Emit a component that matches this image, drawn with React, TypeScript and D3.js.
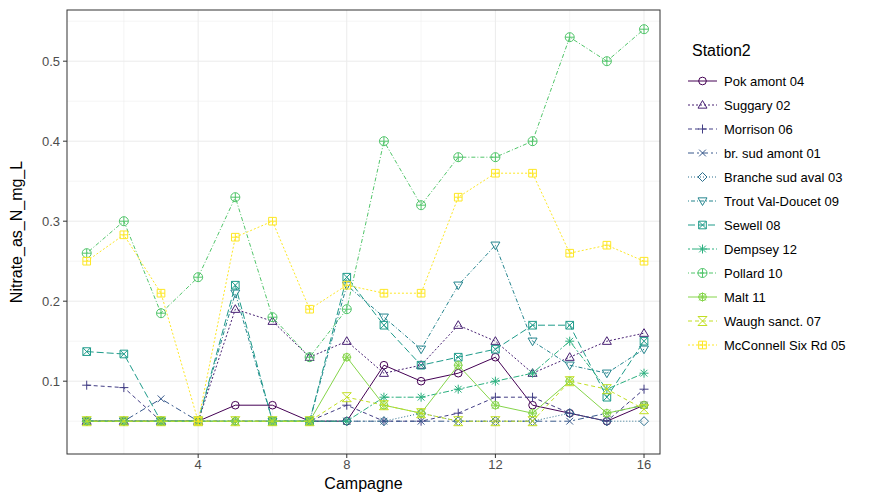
import React from 'react';
import * as d3 from 'd3';

const campagnes = d3.range(1, 17);
const stations = ['Pok amont 04', 'Suggary 02', 'Morrison 06', 'br. sud amont 01', 'Branche sud aval 03', 'Trout Val-Doucet 09', 'Sewell 08', 'Dempsey 12', 'Pollard 10', 'Malt 11', 'Waugh sanct. 07', 'McConnell Six Rd 05'];
const colors = ['#440154', '#482173', '#433E85', '#38598C', '#2D708E', '#25858E', '#1E9B8A', '#2BB07F', '#51C56A', '#85D54A', '#C2DF23', '#FDE725'];
const dashes = ['none', '2,2', '4,3', '6,3,2,3', '1,2', '1,2,4,2', '7,3', '2,2,6,2', '1,2,4,2', 'none', '4,3', '2,2'];
const pokAmont = [.05, .05, .05, .05, .07, .07, .05, .05, .12, .10, .11, .13, .07, .06, .05, .07];
const suggary = [.05, .05, .05, .05, .19, .175, .13, .15, .11, .12, .17, .15, .11, .13, .15, .16];
const morrison = [.095, .092, .05, .05, .05, .05, .05, .07, .05, .05, .06, .08, .08, .06, .05, .09];
const brSudAmont = [.05, .05, .078, .05, .05, .05, .05, .05, .05, .05, .05, .05, .05, .05, .06, .07];
const brancheSudAval = [.05, .05, .05, .05, .05, .05, .05, .05, .05, .06, .05, .05, .05, .06, .05, .05];
const troutVal = [.05, .05, .05, .05, .21, .05, .05, .22, .18, .14, .22, .27, .15, .12, .11, .14];
const sewell = [.137, .134, .05, .05, .22, .05, .05, .23, .17, .12, .13, .14, .17, .17, .08, .15];
const dempsey = [.05, .05, .05, .05, .05, .05, .05, .05, .08, .08, .09, .10, .11, .15, .09, .11];
const pollard = [.26, .30, .185, .23, .33, .18, .13, .19, .40, .32, .38, .38, .40, .53, .50, .54];
const malt = [.05, .05, .05, .05, .05, .05, .05, .13, .07, .06, .12, .07, .06, .10, .06, .07];
const waugh = [.05, .05, .05, .05, .05, .05, .05, .08, .07, .06, .05, .05, .05, .10, .09, .065];
const mcConnell = [.25, .283, .21, .05, .28, .30, .19, .22, .21, .21, .33, .36, .36, .26, .27, .25];
const series = [pokAmont, suggary, morrison, brSudAmont, brancheSudAval, troutVal, sewell, dempsey, pollard, malt, waugh, mcConnell];
const xTicks = [4, 8, 12, 16];
const yTicks = [0.1, 0.2, 0.3, 0.4, 0.5];

const W = 892, H = 496;
const panel = { left: 67, top: 10, right: 660, bottom: 454 };
const x = d3.scaleLinear().domain([0.47, 16.43]).range([panel.left, panel.right]);
const y = d3.scaleLinear().domain([0.009, 0.564]).range([panel.bottom, panel.top]);

function Shape({ i, cx, cy, color }: { i: number; cx: number; cy: number; color: string }) {
  const s = 4.5;
  const p = { fill: 'none', stroke: color, strokeWidth: 1 };
  const plus = `M${cx - s},${cy}H${cx + s}M${cx},${cy - s}V${cy + s}`;
  const cross = `M${cx - s * 0.75},${cy - s * 0.75}L${cx + s * 0.75},${cy + s * 0.75}M${cx - s * 0.75},${cy + s * 0.75}L${cx + s * 0.75},${cy - s * 0.75}`;
  const sq = `M${cx - s * 0.85},${cy - s * 0.85}h${s * 1.7}v${s * 1.7}h${-s * 1.7}Z`;
  switch (i) {
    case 0: return <circle cx={cx} cy={cy} r={s * 0.85} {...p} />;
    case 1: return <path d={`M${cx},${cy - s}L${cx + s},${cy + s * 0.7}L${cx - s},${cy + s * 0.7}Z`} {...p} />;
    case 2: return <path d={plus} {...p} />;
    case 3: return <path d={cross} {...p} />;
    case 4: return <path d={`M${cx},${cy - s}L${cx + s},${cy}L${cx},${cy + s}L${cx - s},${cy}Z`} {...p} />;
    case 5: return <path d={`M${cx},${cy + s}L${cx + s},${cy - s * 0.7}L${cx - s},${cy - s * 0.7}Z`} {...p} />;
    case 6: return <path d={sq + `M${cx - s * 0.85},${cy - s * 0.85}L${cx + s * 0.85},${cy + s * 0.85}M${cx - s * 0.85},${cy + s * 0.85}L${cx + s * 0.85},${cy - s * 0.85}`} {...p} />;
    case 7: return <path d={plus + cross} {...p} />;
    case 8: return <g><circle cx={cx} cy={cy} r={s} {...p} /><path d={plus} {...p} /></g>;
    case 9: return <g><circle cx={cx} cy={cy} r={s * 0.85} {...p} /><path d={plus + cross} {...p} /></g>;
    case 10: return <path d={`M${cx - s},${cy - s}H${cx + s}L${cx - s},${cy + s}H${cx + s}Z`} {...p} />;
    default: return <path d={sq + `M${cx - s * 0.85},${cy}H${cx + s * 0.85}M${cx},${cy - s * 0.85}V${cy + s * 0.85}`} {...p} />;
  }
}

export default function App() {
  const font = '"Liberation Sans", Arial, sans-serif';
  const line = d3.line<number>().x((_, j) => x(campagnes[j])).y(v => y(v));
  const xMinor = [2, 6, 10, 14];
  const yMinor = [0.05, 0.15, 0.25, 0.35, 0.45, 0.55];
  return (
    <svg width={W} height={H} style={{ position: 'absolute', left: 0, top: 0, fontFamily: font }}>
      <rect width={W} height={H} fill="white" />
      {xMinor.map(t => <line key={'xm' + t} x1={x(t)} x2={x(t)} y1={panel.top} y2={panel.bottom} stroke="#EBEBEB" strokeWidth={0.5} />)}
      {yMinor.map(t => <line key={'ym' + t} x1={panel.left} x2={panel.right} y1={y(t)} y2={y(t)} stroke="#EBEBEB" strokeWidth={0.5} />)}
      {xTicks.map(t => <line key={'x' + t} x1={x(t)} x2={x(t)} y1={panel.top} y2={panel.bottom} stroke="#EBEBEB" strokeWidth={1} />)}
      {yTicks.map(t => <line key={'y' + t} x1={panel.left} x2={panel.right} y1={y(t)} y2={y(t)} stroke="#EBEBEB" strokeWidth={1} />)}
      {series.map((vals, i) => (
        <g key={stations[i]}>
          <path d={line(vals)!} fill="none" stroke={colors[i]} strokeWidth={1} strokeDasharray={dashes[i]} />
          {vals.map((v, j) => <Shape key={j} i={i} cx={x(campagnes[j])} cy={y(v)} color={colors[i]} />)}
        </g>
      ))}
      <rect x={panel.left} y={panel.top} width={panel.right - panel.left} height={panel.bottom - panel.top} fill="none" stroke="#333" strokeWidth={1} />
      {xTicks.map(t => (
        <g key={'xt' + t}>
          <line x1={x(t)} x2={x(t)} y1={panel.bottom} y2={panel.bottom + 4} stroke="#333" />
          <text x={x(t)} y={panel.bottom + 15} textAnchor="middle" fontSize={13} fill="#4D4D4D">{t}</text>
        </g>
      ))}
      {yTicks.map(t => (
        <g key={'yt' + t}>
          <line x1={panel.left - 4} x2={panel.left} y1={y(t)} y2={y(t)} stroke="#333" />
          <text x={panel.left - 7} y={y(t) + 4.5} textAnchor="end" fontSize={13} fill="#4D4D4D">{t.toFixed(1)}</text>
        </g>
      ))}
      <text x={(panel.left + panel.right) / 2} y={489} textAnchor="middle" fontSize={16}>Campagne</text>
      <text transform={`translate(22,${(panel.top + panel.bottom) / 2}) rotate(-90)`} textAnchor="middle" fontSize={16}>Nitrate_as_N_mg_L</text>
      <text x={692} y={56} fontSize={16}>Station2</text>
      {stations.map((s, i) => {
        const cy = 81 + i * 24;
        return (
          <g key={'lg' + s}>
            <line x1={688} x2={717} y1={cy} y2={cy} stroke={colors[i]} strokeDasharray={dashes[i]} />
            <Shape i={i} cx={702.5} cy={cy} color={colors[i]} />
            <text x={724} y={cy + 4.5} fontSize={13}>{s}</text>
          </g>
        );
      })}
    </svg>
  );
}
